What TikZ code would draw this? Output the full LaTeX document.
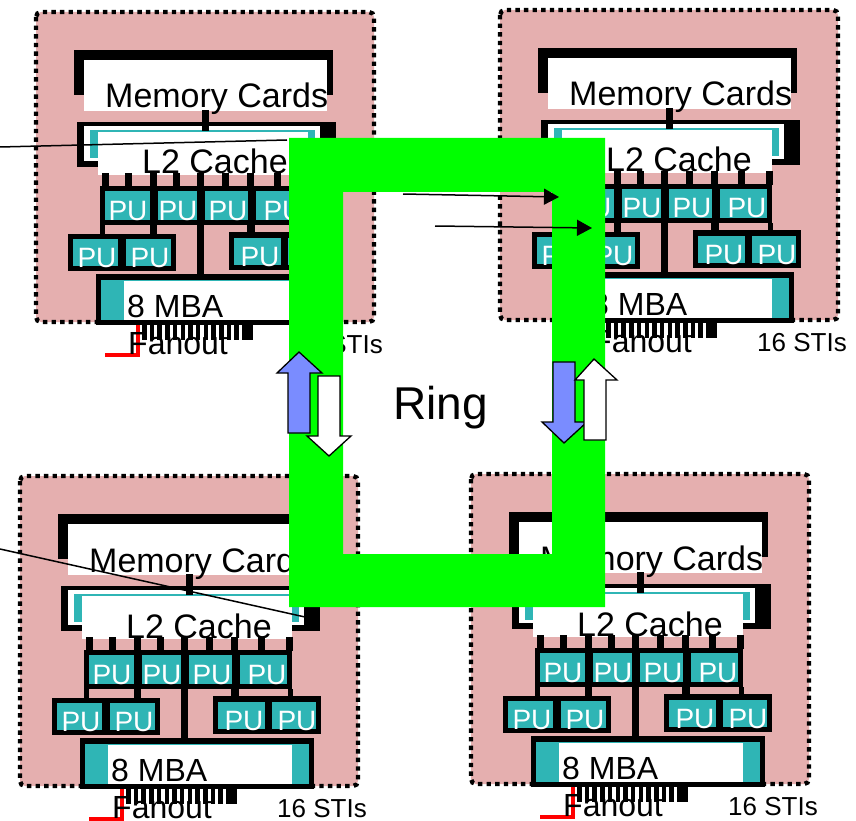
\documentclass[tikz,border=0pt]{standalone}
\usepackage{fontspec}
\setmainfont{Liberation Sans}
\definecolor{boardpink}{HTML}{E5AFAF}
\definecolor{cellteal}{HTML}{2FB5B5}
\definecolor{ringgreen}{HTML}{00FF00}
\definecolor{arrowblue}{HTML}{7A8CFF}
\usetikzlibrary{arrows.meta}
\tikzset{
  board/.style={fill=boardpink, draw=black, line width=4.4pt, dash pattern=on 4.4pt off 4.2pt, rounded corners=5pt},
  solid black/.style={fill=black},
  white box/.style={fill=white},
  teal box/.style={fill=cellteal},
  label/.style={inner sep=0pt, anchor=base west, font=\fontsize{34}{34}\selectfont},
  mbalabel/.style={label, font=\fontsize{32}{32}\selectfont},
  pulabel/.style={inner sep=0pt, anchor=base, text=white, font=\fontsize{28}{28}\selectfont},
  stilabel/.style={inner sep=0pt, anchor=base west, font=\fontsize{26}{26}\selectfont},
  redline/.style={draw=red, line width=4pt},
  thinline/.style={draw=black, line width=1.5pt},
  thinarrow/.style={thinline, -{Triangle[length=15pt, width=16pt]}},
  bluearrow/.style={fill=arrowblue, draw=black, line width=1.3pt},
  whitearrow/.style={fill=white, draw=black, line width=1.3pt}
}

\begin{document}
\begin{tikzpicture}[x=1pt, y=-1pt]
  \useasboundingbox (0,0) rectangle (856,821);
  \foreach \name/\dx/\dy in {tl/0/0, tr/464/-2, bl/-16/464, br/435/462} {
    \begin{scope}[shift={(\dx,\dy)}]
      \draw[board] (36,12) rectangle (374,322);
      % memory cards
      \fill[solid black] (74,50) rectangle (333,95);
      \fill[white box] (84,60) rectangle (327,111);
      \node[label] (\name-mem) at (105,108) {Memory Cards};
      \fill[solid black] (202,110) rectangle (209,131);
      % l2 cache
      \fill[solid black] (77,122) rectangle (336,167);
      \fill[white box] (84,126) rectangle (320,161);
      \fill[teal box] (90,130) rectangle (315,158);
      \fill[white box] (98,132) rectangle (308,175);
      \fill[solid black] (202,122) rectangle (209,131);
      \foreach \x in {102,125,150,173,197,222,247,274,302}
        \fill[solid black] (\x,173) rectangle ++(7,14);
      \node[label] (\name-l2) at (142,174) {L2 Cache};
      % pu rows
      \fill[solid black] (100,186) rectangle (308,225);
      \fill[solid black] (68,234) rectangle (176,271);
      \fill[solid black] (229,232) rectangle (337,270);
      \fill[solid black] (100,225) rectangle (105,234);
      \fill[solid black] (150,225) rectangle (157,234);
      \fill[solid black] (247,225) rectangle (255,232);
      \fill[solid black] (304,225) rectangle (309,232);
      \fill[solid black] (197,225) rectangle (204,277);
      \foreach \i/\xa/\xb/\ya/\yb in {1/105/150/191/220, 2/158/197/191/220, 3/205/248/191/220, 4/256/303/191/220,
          5/73/118/239/266, 6/126/171/239/266, 7/234/281/238/265, 8/288/332/238/265}
        \fill[teal box] (\xa,\ya) rectangle (\xb,\yb);
      \foreach \i/\x/\y in {1/128/220, 2/178/220, 3/228/220, 4/283/220, 5/97/267, 6/150/267, 7/260/266, 8/313/266}
        \node[pulabel] (\name-pu\i) at (\x,\y) {PU};
      % mba
      \fill[solid black] (96,274) rectangle (330,325);
      \fill[teal box] (101,280) rectangle (325,320);
      \fill[white box] (124,281) rectangle (308,320);
      \node[mbalabel] (\name-mba) at (127,317) {8 MBA};
      % fanout
      \foreach \x in {142,149.7,...,246}
        \fill[solid black] (\x,325) rectangle ++(4.5,15);
      \fill[solid black] (247,325) rectangle (253,340);
      \draw[redline] (138,325) -- (138,355) -- (105,355);
      \node[mbalabel] (\name-fan) at (128,354) {Fanout};
      \node[stilabel] (\name-sti) at (293,353) {16 STIs};
    \end{scope}
  }
  \coordinate (lineA) at (0,147);
  \coordinate (lineAend) at (287,140);
  \coordinate (lineB) at (0,549);
  \coordinate (lineBend) at (305,617);
  \draw[thinline] (lineA) -- (lineAend);
  \draw[thinline] (lineB) -- (lineBend);
  % ring
  \fill[ringgreen, even odd rule] (289,138) rectangle (605,607) (343,192) rectangle (552,554);
  \node[label, font=\fontsize{46}{46}\selectfont] (ring) at (393,419) {Ring};
  \coordinate (arrA) at (403,194);
  \coordinate (arrAend) at (559,197);
  \coordinate (arrB) at (435,226);
  \coordinate (arrBend) at (592,228);
  \draw[thinarrow] (arrA) -- (arrAend);
  \draw[thinarrow] (arrB) -- (arrBend);
  % block arrows
  \draw[bluearrow] (288,433) -- (288,373) -- (277,373) -- (299,352) -- (322,373) -- (310,373) -- (310,433) -- cycle;
  \draw[whitearrow] (318,376) -- (318,436) -- (307,436) -- (329,456) -- (351,436) -- (340,436) -- (340,376) -- cycle;
  \draw[bluearrow] (553,362) -- (553,422) -- (542,422) -- (564,443) -- (587,422) -- (575,422) -- (575,362) -- cycle;
  \draw[whitearrow] (584,440) -- (584,380) -- (575,380) -- (594,359) -- (617,380) -- (606,380) -- (606,440) -- cycle;
\end{tikzpicture}
\end{document}
